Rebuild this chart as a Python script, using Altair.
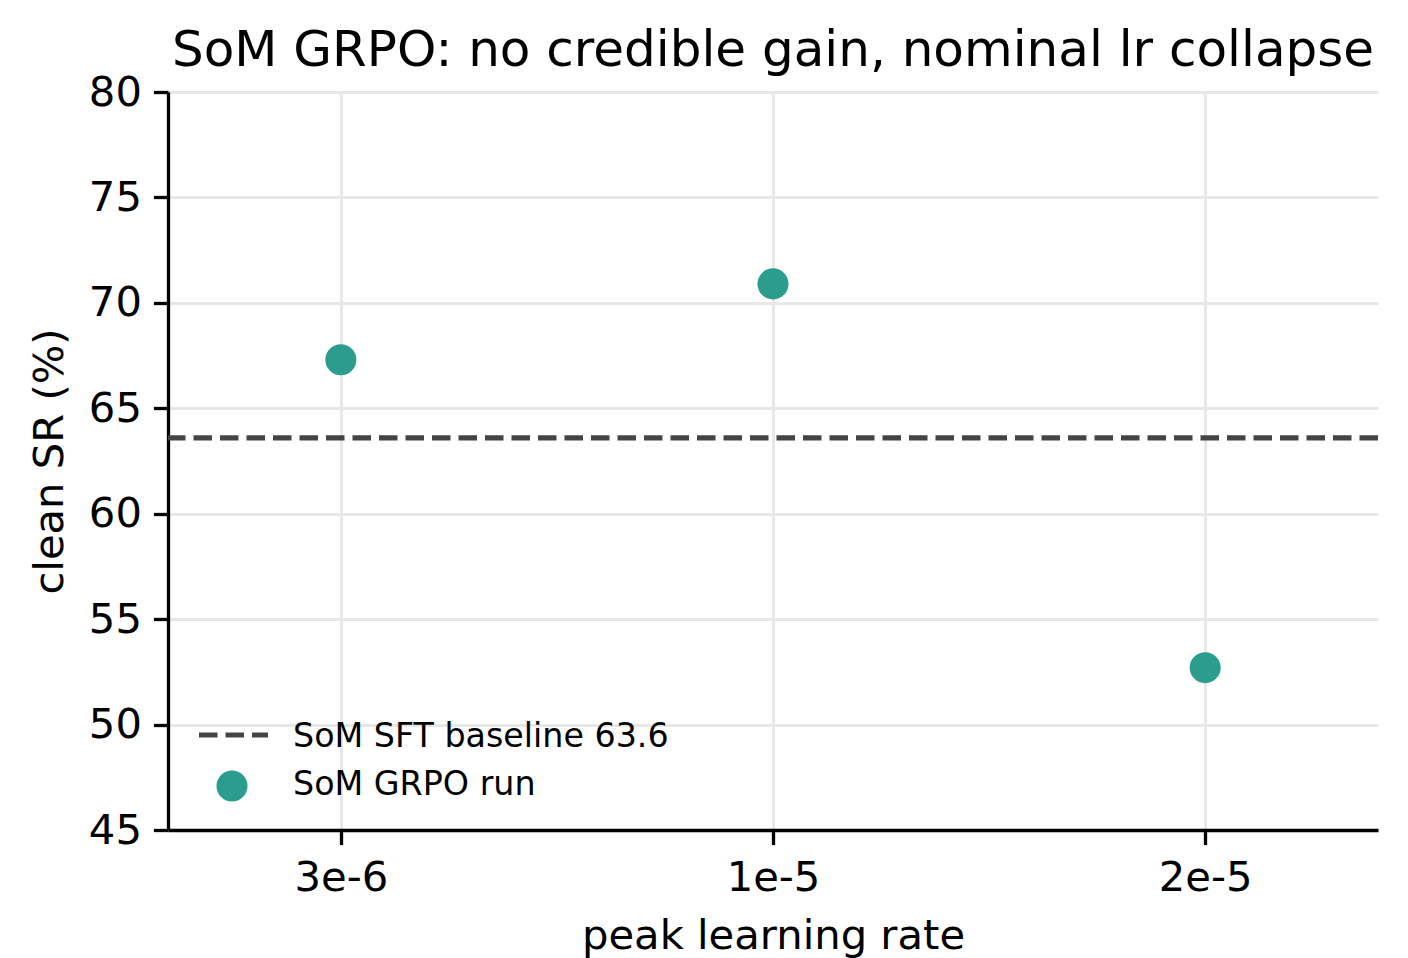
import altair as alt
import pandas as pd

# ---- data ----
lr_labels = ["3e-6", "1e-5", "2e-5"]
clean_sr = [67.3, 70.9, 52.7]
baseline_sr = 63.6
legend_labels = ["SoM SFT baseline 63.6", "SoM GRPO run"]
y_ticks = [45, 50, 55, 60, 65, 70, 75, 80]

TEAL = "#2a9d8f"
DARK = "#444444"
FONT = "DejaVu Sans"

runs = pd.DataFrame({"lr": lr_labels, "sr": clean_sr})
base = pd.DataFrame({"sr": [baseline_sr]})

x_enc = alt.X(
    "lr:N",
    sort=lr_labels,
    scale=alt.Scale(type="point", padding=0.4),
    axis=alt.Axis(
        title="peak learning rate",
        labelAngle=0,
        grid=True,
        gridColor="#e7e7e7",
        gridWidth=3,
        domainColor="black",
        domainWidth=3.3,
        tickColor="black",
        tickWidth=3.3,
        tickSize=14.6,
        labelPadding=13,
        titlePadding=16,
        labelFontSize=41.7,
        titleFontSize=41.7,
        labelColor="black",
        titleColor="black",
        titleFontWeight="normal",
    ),
)

y_axis = alt.Axis(
    title="clean SR (%)",
    values=y_ticks,
    grid=True,
    gridColor="#e7e7e7",
    gridWidth=3,
    domainColor="black",
    domainWidth=3.3,
    tickColor="black",
    tickWidth=3.3,
    tickSize=14.6,
    labelPadding=12,
    titlePadding=17,
    labelFontSize=41.7,
    titleFontSize=41.7,
    labelColor="black",
    titleColor="black",
    titleFontWeight="normal",
)
y_scale = alt.Scale(domain=[45, 80], nice=False, zero=False)

points = alt.Chart(runs).mark_circle(size=962, opacity=1, color=TEAL).encode(
    x=x_enc,
    y=alt.Y("sr:Q", scale=y_scale, axis=y_axis),
)

rule = alt.Chart(base).mark_rule(color=DARK, strokeWidth=5.2, strokeDash=[18.5, 8]).encode(
    y=alt.Y("sr:Q", scale=y_scale),
)

# ---- manual legend (inside lower-left) ----
leg_line = alt.Chart(pd.DataFrame({"label": [legend_labels[0]]})).mark_rule(
    color=DARK, strokeWidth=5.2, strokeDash=[18.5, 8]
).encode(x=alt.value(31), x2=alt.value(100), y=alt.value(643))

leg_dot = alt.Chart(pd.DataFrame({"label": [legend_labels[1]]})).mark_circle(
    size=962, opacity=1, color=TEAL
).encode(x=alt.value(64), y=alt.value(694))

leg_text1 = alt.Chart(pd.DataFrame({"label": [legend_labels[0]]})).mark_text(
    align="left", baseline="middle", fontSize=33.3, font=FONT, color="black"
).encode(x=alt.value(125), y=alt.value(645), text="label:N")

leg_text2 = alt.Chart(pd.DataFrame({"label": [legend_labels[1]]})).mark_text(
    align="left", baseline="middle", fontSize=33.3, font=FONT, color="black"
).encode(x=alt.value(125), y=alt.value(693), text="label:N")

chart = (
    alt.layer(rule, points, leg_line, leg_dot, leg_text1, leg_text2)
    .properties(
        width=1210,
        height=738,
        title=alt.TitleParams(
            "SoM GRPO: no credible gain, nominal lr collapse",
            fontSize=50,
            font=FONT,
            fontWeight="normal",
            color="black",
            anchor="middle",
            offset=22,
            dy=26,
        ),
        autosize=alt.AutoSizeParams(type="none"),
        padding={"left": 168, "top": 92, "right": 30, "bottom": 128},
        background="white",
    )
    .configure_view(stroke=None)
    .configure_axis(labelFont=FONT, titleFont=FONT)
    .configure_text(font=FONT)
)

chart.save("out.html", embed_options={"renderer": "svg", "actions": False})
